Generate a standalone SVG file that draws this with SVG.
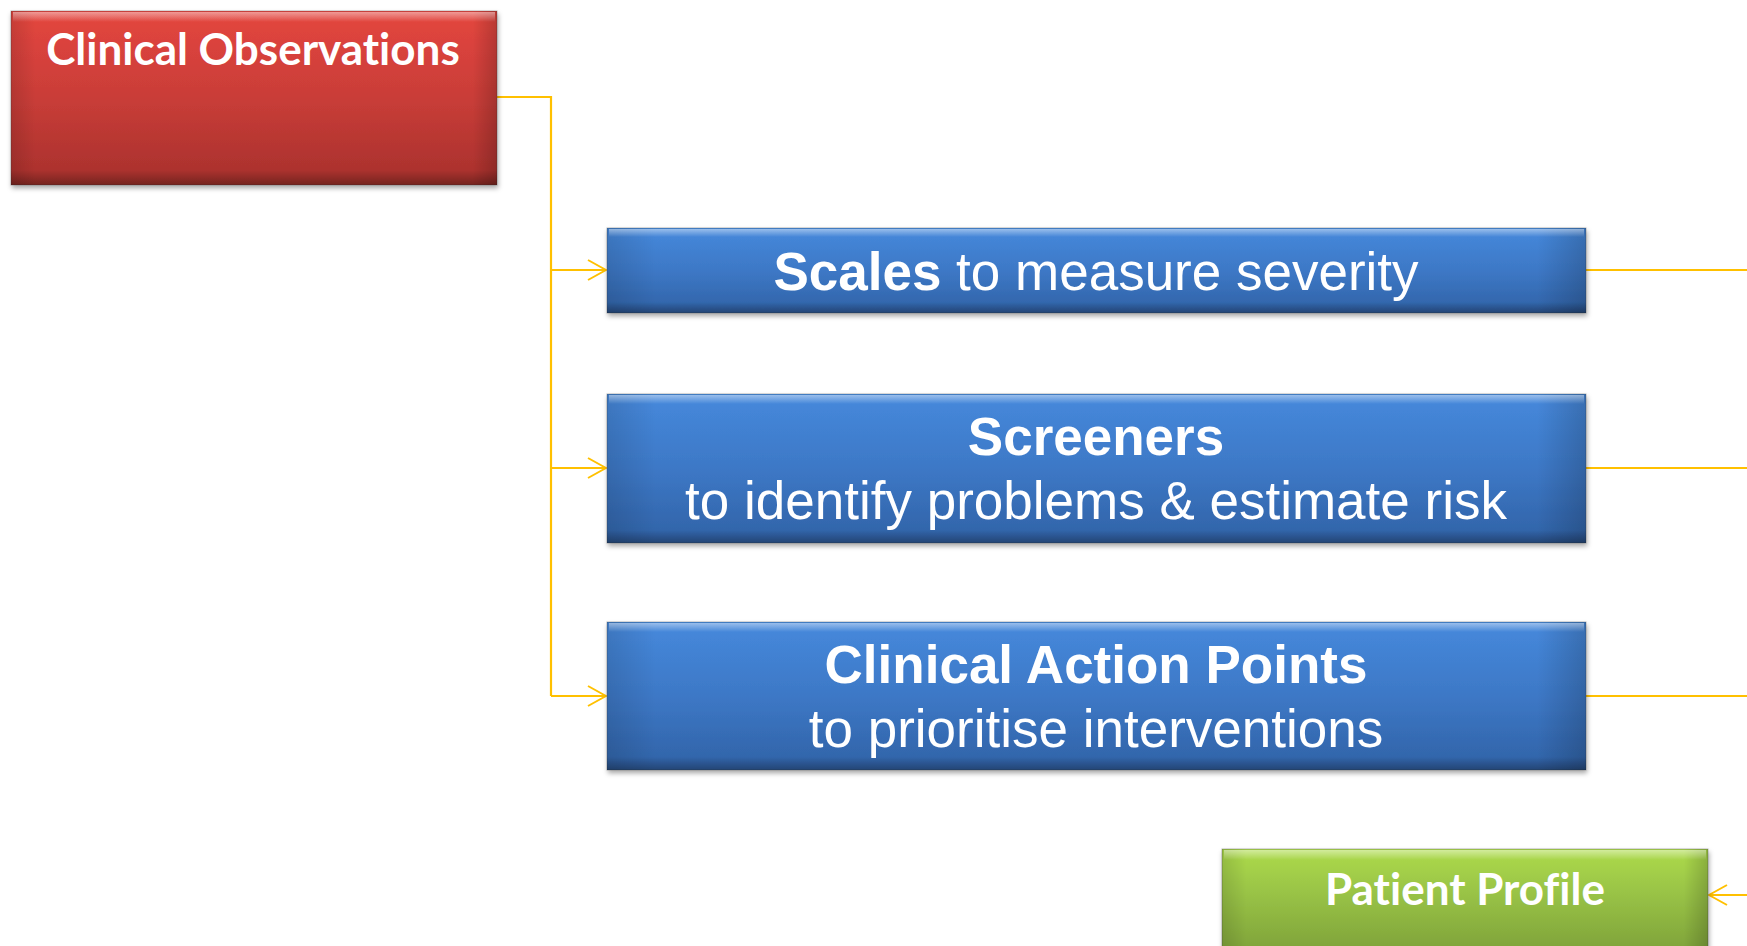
<svg xmlns="http://www.w3.org/2000/svg" width="1747" height="946" viewBox="0 0 1747 946">
  <defs>
    <linearGradient id="redFill" x1="0" y1="0" x2="0" y2="1">
      <stop offset="0" stop-color="#e4463f"/>
      <stop offset="0.5" stop-color="#c93d38"/>
      <stop offset="1" stop-color="#a7302c"/>
    </linearGradient>
    <linearGradient id="blueFill" x1="0" y1="0" x2="0" y2="1">
      <stop offset="0" stop-color="#4689dc"/>
      <stop offset="0.5" stop-color="#3d78c6"/>
      <stop offset="1" stop-color="#3062a6"/>
    </linearGradient>
    <linearGradient id="greenFill" x1="0" y1="0" x2="0" y2="1">
      <stop offset="0" stop-color="#addb4c"/>
      <stop offset="0.5" stop-color="#94bd44"/>
      <stop offset="1" stop-color="#7b9e38"/>
    </linearGradient>
    <linearGradient id="sideShade" x1="0" y1="0" x2="1" y2="0">
      <stop offset="0" stop-color="#000" stop-opacity="0.12"/>
      <stop offset="0.05" stop-color="#000" stop-opacity="0"/>
      <stop offset="0.95" stop-color="#000" stop-opacity="0"/>
      <stop offset="1" stop-color="#000" stop-opacity="0.18"/>
    </linearGradient>
    <linearGradient id="topGloss" x1="0" y1="0" x2="0" y2="1">
      <stop offset="0" stop-color="#fff" stop-opacity="0.45"/>
      <stop offset="1" stop-color="#fff" stop-opacity="0"/>
    </linearGradient>
    <linearGradient id="bottomShade" x1="0" y1="0" x2="0" y2="1">
      <stop offset="0" stop-color="#000" stop-opacity="0"/>
      <stop offset="1" stop-color="#000" stop-opacity="0.3"/>
    </linearGradient>
    <filter id="shadow" x="-5%" y="-20%" width="110%" height="140%">
      <feDropShadow dx="1" dy="3" stdDeviation="2.5" flood-color="#000" flood-opacity="0.35"/>
    </filter>
    <marker id="arrow" viewBox="0 0 20 22" refX="19" refY="11" markerWidth="20" markerHeight="22" markerUnits="userSpaceOnUse" orient="auto">
      <path d="M1,1 L19,11 L1,21" fill="none" stroke="#ffc000" stroke-width="2"/>
    </marker>
  </defs>
  <style>
    .edge { fill: none; stroke: #ffc000; stroke-width: 2.2; }
    .frame { stroke: #3a3a3a; stroke-opacity: 0.35; stroke-width: 1; }
    .cal { font-family: Lato, "Open Sans", sans-serif; font-weight: 700; fill: #ffffff; font-variant-ligatures: none; }
    .ari { font-family: "Liberation Sans", Arial, sans-serif; fill: #ffffff; font-size: 53px; }
    .b { font-weight: 700; }
  </style>

  <rect width="1747" height="946" fill="#ffffff"/>

  <!-- connectors -->
  <g id="connectors">
    <polyline class="edge" points="497,97 551,97 551,696"/>
    <line class="edge" x1="551" y1="270" x2="606" y2="270" marker-end="url(#arrow)"/>
    <line class="edge" x1="551" y1="468" x2="606" y2="468" marker-end="url(#arrow)"/>
    <line class="edge" x1="551" y1="696" x2="606" y2="696" marker-end="url(#arrow)"/>
    <line class="edge" x1="1586" y1="270" x2="1747" y2="270"/>
    <line class="edge" x1="1586" y1="468" x2="1747" y2="468"/>
    <line class="edge" x1="1586" y1="696" x2="1747" y2="696"/>
    <line class="edge" x1="1747" y1="895" x2="1709" y2="895" marker-end="url(#arrow)"/>
  </g>

  <!-- Clinical Observations -->
  <g id="clinical-observations">
    <g filter="url(#shadow)">
      <rect class="frame" x="11" y="11" width="486" height="174" fill="url(#redFill)"/>
    </g>
    <rect x="11" y="11" width="486" height="174" fill="url(#sideShade)"/>
    <rect x="13" y="12" width="482" height="10" fill="url(#topGloss)"/>
    <rect x="11" y="170" width="486" height="15" fill="url(#bottomShade)"/>
    <text class="cal" x="253" y="65" font-size="44" text-anchor="middle">Clinical Observations</text>
  </g>

  <!-- Scales -->
  <g id="scales">
    <g filter="url(#shadow)">
      <rect class="frame" x="607" y="228" width="979" height="85" fill="url(#blueFill)"/>
    </g>
    <rect x="607" y="228" width="979" height="85" fill="url(#sideShade)"/>
    <rect x="609" y="229" width="975" height="8" fill="url(#topGloss)"/>
    <rect x="607" y="302" width="979" height="11" fill="url(#bottomShade)"/>
    <text class="ari" x="1096" y="290" text-anchor="middle"><tspan class="b">Scales</tspan> to measure severity</text>
  </g>

  <!-- Screeners -->
  <g id="screeners">
    <g filter="url(#shadow)">
      <rect class="frame" x="607" y="394" width="979" height="149" fill="url(#blueFill)"/>
    </g>
    <rect x="607" y="394" width="979" height="149" fill="url(#sideShade)"/>
    <rect x="609" y="395" width="975" height="9" fill="url(#topGloss)"/>
    <rect x="607" y="530" width="979" height="13" fill="url(#bottomShade)"/>
    <text class="ari b" x="1096" y="455" text-anchor="middle">Screeners</text>
    <text class="ari" x="1096" y="519" text-anchor="middle">to identify problems &amp; estimate risk</text>
  </g>

  <!-- Clinical Action Points -->
  <g id="clinical-action-points">
    <g filter="url(#shadow)">
      <rect class="frame" x="607" y="622" width="979" height="148" fill="url(#blueFill)"/>
    </g>
    <rect x="607" y="622" width="979" height="148" fill="url(#sideShade)"/>
    <rect x="609" y="623" width="975" height="9" fill="url(#topGloss)"/>
    <rect x="607" y="757" width="979" height="13" fill="url(#bottomShade)"/>
    <text class="ari b" x="1096" y="683" text-anchor="middle">Clinical Action Points</text>
    <text class="ari" x="1096" y="747" text-anchor="middle">to prioritise interventions</text>
  </g>

  <!-- Patient Profile -->
  <g id="patient-profile">
    <g filter="url(#shadow)">
      <rect class="frame" x="1222" y="849" width="486" height="110" fill="url(#greenFill)"/>
    </g>
    <rect x="1222" y="849" width="486" height="110" fill="url(#sideShade)"/>
    <rect x="1224" y="850" width="482" height="10" fill="url(#topGloss)"/>
    <text class="cal" x="1465" y="905" font-size="44" text-anchor="middle">Patient Profile</text>
  </g>
</svg>
